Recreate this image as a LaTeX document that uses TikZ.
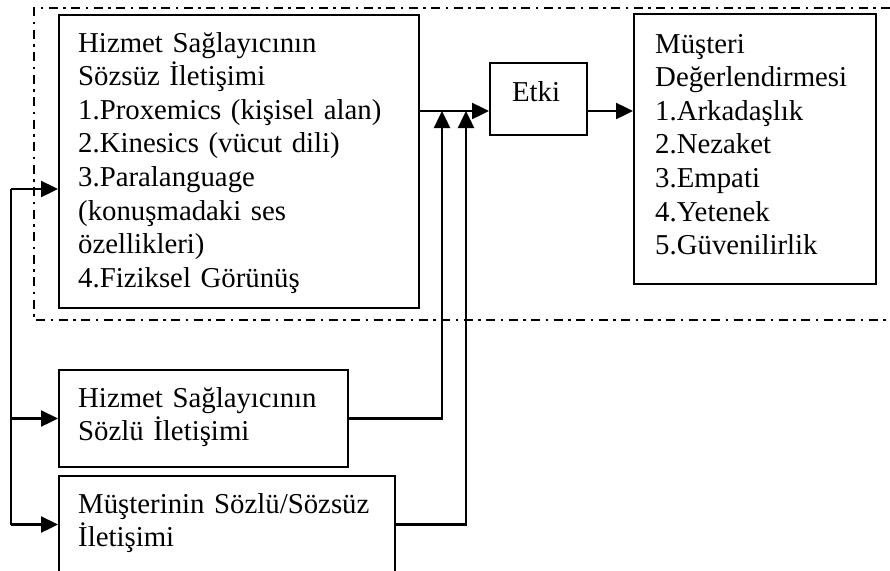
\documentclass[tikz,border=0pt]{standalone}
\usepackage{fontspec}
\setmainfont{Liberation Serif}
\usetikzlibrary{arrows.meta}
\begin{document}
\begin{tikzpicture}[x=1pt,y=-1pt,
  boxst/.style={draw,line width=2pt,inner sep=0pt,anchor=north west},
  txt/.style={inner sep=0pt,anchor=base west,text width=#1,align=left,
    font=\fontsize{28.8}{33.6}\selectfont},
  conn/.style={line width=2.4pt},
  arr/.style={conn,-{Triangle[length=17pt,width=16pt]}},
  frame/.style={line width=1.8pt,dash pattern=on 9pt off 5.5pt on 2.5pt off 5.5pt}]
\useasboundingbox (0,0) rectangle (890,570);
\clip (0,0) rectangle (890,570);
% dash-dot frame
\draw[frame] (890,8) -- (34,8) -- (34,320) -- (890,320);
% boxes
\node[boxst,minimum width=360pt,minimum height=293pt] (b1) at (58,14) {};
\node[boxst,minimum width=97pt,minimum height=72pt] (etki) at (489,62) {};
\node[boxst,minimum width=242pt,minimum height=270pt] (b3) at (633,13) {};
\node[boxst,minimum width=289pt,minimum height=97pt] (b2) at (58,369) {};
\node[boxst,minimum width=336pt,minimum height=97pt] (b4) at (58,475) {};
% texts
\node[txt=335pt] (t1) at (78,52) {Hizmet Sağlayıcının\\Sözsüz İletişimi\\1.Proxemics (kişisel alan)\\2.Kinesics (vücut dili)\\3.Paralanguage\\(konuşmadaki ses\\özellikleri)\\4.Fiziksel Görünüş};
\node[inner sep=0pt,anchor=base,font=\fontsize{28.8}{33.6}\selectfont] (t2) at (536,101) {Etki};
\node[txt=218pt] (t3) at (655,53) {Müşteri\\Değerlendirmesi\\1.Arkadaşlık\\2.Nezaket\\3.Empati\\4.Yetenek\\5.Güvenilirlik};
\node[txt=265pt] (t4) at (78,407) {Hizmet Sağlayıcının\\Sözlü İletişimi};
\node[txt=312pt] (t5) at (78,513) {Müşterinin Sözlü/Sözsüz\\İletişimi};
% connectors
\coordinate (lvl) at (0,111);
\coordinate (j1) at (442,111);
\coordinate (j2) at (466,111);
\coordinate (l1) at (11,189);
\draw[arr] (b1.east |- lvl) -- (etki.west |- lvl);
\draw[arr] (etki.east |- lvl) -- (b3.west |- lvl);
\draw[arr] (b2.east) -| (j1);
\draw[arr] (b4.east) -| (j2);
\draw[conn] (l1) -- (l1 |- b4.west);
\draw[arr] (l1) -- (b1.west |- l1);
\draw[arr] (l1 |- b2.west) -- (b2.west);
\draw[arr] (l1 |- b4.west) -- (b4.west);
\end{tikzpicture}
\end{document}
